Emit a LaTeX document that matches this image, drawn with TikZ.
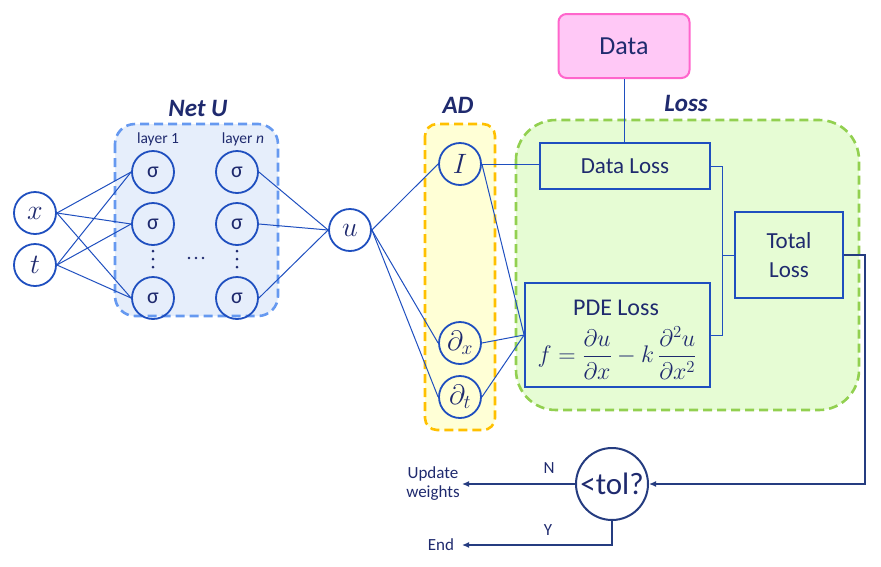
\documentclass[tikz,border=0pt]{standalone}
\usepackage{fix-cm}
\usepackage{amsmath}
\usepackage{fontspec}
\setmainfont{Carlito}
\usetikzlibrary{arrows.meta,calc}
\definecolor{lblue}{HTML}{1F4FBF}
\definecolor{navy}{HTML}{1F2A6E}
\definecolor{dnavy}{HTML}{253C80}
\definecolor{netfill}{HTML}{E6EEFB}
\definecolor{netdash}{HTML}{6699F0}
\definecolor{adfill}{HTML}{FFFFD6}
\definecolor{addash}{HTML}{FFC000}
\definecolor{lossfill}{HTML}{E6FCD4}
\definecolor{lossdash}{HTML}{92D050}
\definecolor{datafill}{HTML}{FFC8F6}
\definecolor{databorder}{HTML}{FF66CC}
\tikzset{
  neuron/.style={circle,draw=lblue,line width=1.8pt,minimum size=42pt,inner sep=0pt,text=navy,font=\fontsize{22}{24}\selectfont},
  mneuron/.style={neuron,font=\fontsize{28}{30}\selectfont},
  lossbox/.style={draw=lblue,line width=1.8pt,inner sep=0pt,text=navy,font=\fontsize{23}{27}\selectfont},
  group/.style={dashed,line width=2.6pt,rounded corners=20pt,dash pattern=on 9pt off 5pt},
  conn/.style={draw=lblue,line width=1pt},
  flow/.style={draw=dnavy,line width=1.3pt},
  arr/.style={flow,-{Latex[length=7pt,width=6pt]}},
  title/.style={text=navy,font=\fontsize{25}{27}\selectfont\bfseries\itshape},
  small/.style={text=navy,font=\fontsize{17}{19}\selectfont},
  dotsty/.style={fill=navy}
}
\begin{document}
\begin{tikzpicture}[x=1pt,y=-1pt]
\useasboundingbox (0,0) rectangle (881,566);
% groups
\draw[group,draw=netdash,fill=netfill] (115,124) rectangle (278,316);
\draw[group,draw=addash,fill=adfill,rounded corners=12pt] (425,124) rectangle (495,430);
\draw[group,draw=lossdash,fill=lossfill,rounded corners=40pt] (516,120) rectangle (859,410);
\node[title] (nettitle) at (198,108) {Net U};
\node[title] (adtitle) at (458,105) {AD};
\node[title] (losstitle) at (686,103) {Loss};
\node[small,font=\fontsize{15.5}{17}\selectfont] (l1) at (158,139) {layer 1};
\node[small,font=\fontsize{15.5}{17}\selectfont] (ln) at (243,139) {layer \textit{n}};
% data
\node[draw=databorder,fill=datafill,line width=2pt,rounded corners=8pt,minimum width=131pt,minimum height=64pt,text=navy,font=\fontsize{26}{28}\selectfont] (data) at (624,46) {Data};
% neurons
\node[mneuron] (x) at (35,213) {$x$};
\node[mneuron] (t) at (35,265) {$t$};
\node[neuron] (a1) at (153,172) {σ};
\node[neuron] (a2) at (153,224) {σ};
\node[neuron] (a3) at (153,298) {σ};
\node[neuron] (b1) at (237,172) {σ};
\node[neuron] (b2) at (237,224) {σ};
\node[neuron] (b3) at (237,298) {σ};
\foreach \cx in {153,237}{\foreach \cy in {251,259,267}{\fill[dotsty] (\cx,\cy) circle (1.5pt);}}
\foreach \cx in {189,196,203}{\fill[dotsty] (\cx,258) circle (1.4pt);}
\node[mneuron] (u) at (350,230) {$u$};
\node[mneuron] (I) at (460,164) {$I$};
\node[mneuron] (dx) at (460,343) {$\partial_x$};
\node[mneuron] (dt) at (460,397) {$\partial_t$};
% loss boxes
\node[lossbox,minimum width=170pt,minimum height=46pt] (dl) at (625,166) {Data Loss};
\node[lossbox,minimum width=185pt,minimum height=104pt,align=center] (pl) at (617.5,335) {};
\node[text=navy,font=\fontsize{24}{28}\selectfont] (pltxt) at (616,308) {PDE Loss};
\node[text=navy,font=\fontsize{24}{28}\selectfont] (pleq) at (617,353) {$f=\dfrac{\partial u}{\partial x}-k\,\dfrac{\partial^2 u}{\partial x^2}$};
\node[lossbox,minimum width=108pt,minimum height=86pt,align=center] (tl) at (789,255) {Total\\[2pt]Loss};
% tol
\node[circle,draw=dnavy,line width=2pt,minimum size=72pt,inner sep=0pt,text=navy,font=\fontsize{31}{33}\selectfont] (tol) at (612,484) {<tol?};
\node[small,align=center] (upd) at (433,484) {Update\\weights};
\node[small] (end) at (441,545) {End};
\node[small] (nlab) at (549,468) {N};
\node[small] (ylab) at (548,530) {Y};
% connections
\foreach \i in {x,t}{\foreach \j in {a1,a2,a3}{\draw[conn] (\i.east) -- (\j.west);}}
\foreach \j in {b1,b2,b3}{\draw[conn] (\j.east) -- (u.west);}
\foreach \j in {I,dx,dt}{\draw[conn] (u.east) -- (\j.west);}
\draw[conn] (I.east) -- (dl.west |- I.east);
\draw[conn] (I.east) -- (pl.west);
\draw[conn] (dx.east) -- (pl.west);
\draw[conn] (dt.east) -- (pl.west);
\draw[conn] (data.south) -- (data.south |- dl.north);
\draw[conn] (dl.east) -| (722,255) -- (tl.west);
\draw[conn] (pl.east) -| (722,255);
\draw[arr] (tl.east) -| (865,484) -- (tol.east);
\draw[arr] (tol.west) -- (462,484);
\draw[arr] (tol.south) |- (462,545);
\end{tikzpicture}
\end{document}
